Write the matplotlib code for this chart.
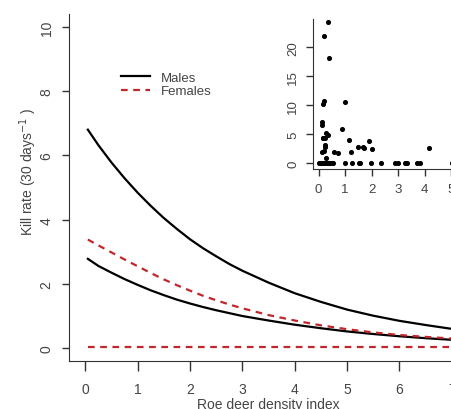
import numpy as np
import matplotlib.pyplot as plt

plt.rcParams['font.family'] = ['Liberation Sans', 'DejaVu Sans']

# кривые
density = [0.05, 0.25, 0.5, 0.75, 1, 1.25, 1.5, 1.75, 2, 2.25, 2.5, 2.75, 3,
           3.5, 4, 4.5, 5, 5.5, 6, 6.5, 7]
males_high = [6.80, 6.32, 5.78, 5.29, 4.84, 4.43, 4.05, 3.71, 3.39, 3.11, 2.86, 2.62, 2.41,
              2.04, 1.71, 1.44, 1.20, 1.01, 0.85, 0.72, 0.60]
males_low = [2.78, 2.56, 2.35, 2.15, 1.97, 1.80, 1.65, 1.51, 1.39, 1.28, 1.18, 1.09, 1.00,
             0.86, 0.73, 0.62, 0.52, 0.44, 0.37, 0.31, 0.26]
females_high = [3.38, 3.20, 2.98, 2.76, 2.55, 2.34, 2.14, 1.96, 1.79, 1.63, 1.49, 1.36, 1.24,
                1.03, 0.86, 0.71, 0.59, 0.49, 0.41, 0.35, 0.30]
females_low = [0.03] * len(density)

# точки во врезке
inset_x = [0.35, 0.21, 0.40, 0.16, 0.19, 0.14, 0.14, 0.15, 0.29, 0.35, 0.15, 0.23,
           0.23, 0.26, 0.19, 0.13, 0.28, 0.59, 0.75, 0.90, 0.98, 1.16, 1.23, 1.48,
           1.67, 1.72, 1.91, 2.01, 4.17,
           0.0, 0.06, 0.10, 0.16, 0.20, 0.25, 0.30, 0.34, 0.39, 0.44, 0.49, 0.54,
           0.98, 1.26, 1.51, 1.57, 1.97, 2.35, 2.89, 2.98, 3.27, 3.35, 3.71, 3.81, 5.03]
inset_y = [24.3, 22.0, 18.2, 10.2, 10.7, 7.2, 6.6, 4.3, 5.3, 4.9, 4.3, 4.3,
           3.2, 2.9, 2.2, 2.0, 0.9, 1.9, 1.7, 6.0, 10.5, 4.0, 1.9, 2.9,
           2.9, 2.6, 3.9, 2.5, 2.7,
           0, 0, 0, 0, 0, 0, 0, 0, 0, 0, 0, 0,
           0, 0, 0, 0, 0, 0, 0, 0, 0, 0, 0, 0, 0]

red = '#c0272d'
grey = '#444444'

fig = plt.figure(figsize=(4.52, 4.10), dpi=100)
ax = fig.add_axes([69 / 452, 48 / 410, 398 / 452, 347 / 410])

ax.plot(density, males_high, color='black', lw=1.6, label='Males')
ax.plot(density, males_low, color='black', lw=1.6)
ax.plot(density, females_high, color=red, lw=1.6, dashes=(3, 2.5), label='Females')
ax.plot(density, females_low, color=red, lw=1.6, dashes=(3, 2.5))

ax.set_xlim(-0.31, 7.29)
ax.set_ylim(-0.4, 10.4)
ax.set_xticks(range(0, 8))
ax.set_yticks(range(0, 11, 2))
for s in ['top', 'right']:
    ax.spines[s].set_visible(False)
for s in ['left', 'bottom']:
    ax.spines[s].set_color('#333333')
ax.tick_params(axis='x', length=7, width=1, color='#333333', labelcolor=grey, labelsize=10, pad=8)
ax.tick_params(axis='y', length=5, width=1, color='#333333', labelcolor=grey, labelsize=10, pad=6)
for t in ax.get_yticklabels():
    t.set_rotation(90)
    t.set_va('center')
ax.set_xlabel('Roe deer density index', color=grey, fontsize=10, labelpad=1)
ax.set_ylabel('Kill rate (30 days$^{-1}$ )', color=grey, fontsize=10)
ax.yaxis.set_label_coords(-0.075, 0.548)

ax.legend(loc='upper left', bbox_to_anchor=(0.118, 0.85), frameon=False, fontsize=9.5,
          handlelength=2.2, labelspacing=0.1, labelcolor=grey, borderaxespad=0)

# врезка
ins = fig.add_axes([313.3 / 452, 240 / 410, 144 / 452, 150 / 410])
ins.scatter(inset_x, inset_y, s=7, color='black', zorder=3)
ins.set_xlim(-0.2, 5.23)
ins.set_ylim(-0.98, 24.9)
ins.set_xticks(range(0, 6))
ins.set_yticks(range(0, 21, 5))
for s in ['top', 'right']:
    ins.spines[s].set_visible(False)
for s in ['left', 'bottom']:
    ins.spines[s].set_color('#333333')
ins.tick_params(axis='both', length=5, width=1, color='#333333', labelcolor=grey, labelsize=9.5, pad=5)
for t in ins.get_yticklabels():
    t.set_rotation(90)
    t.set_va('center')

fig.savefig('out.png', dpi=100)
